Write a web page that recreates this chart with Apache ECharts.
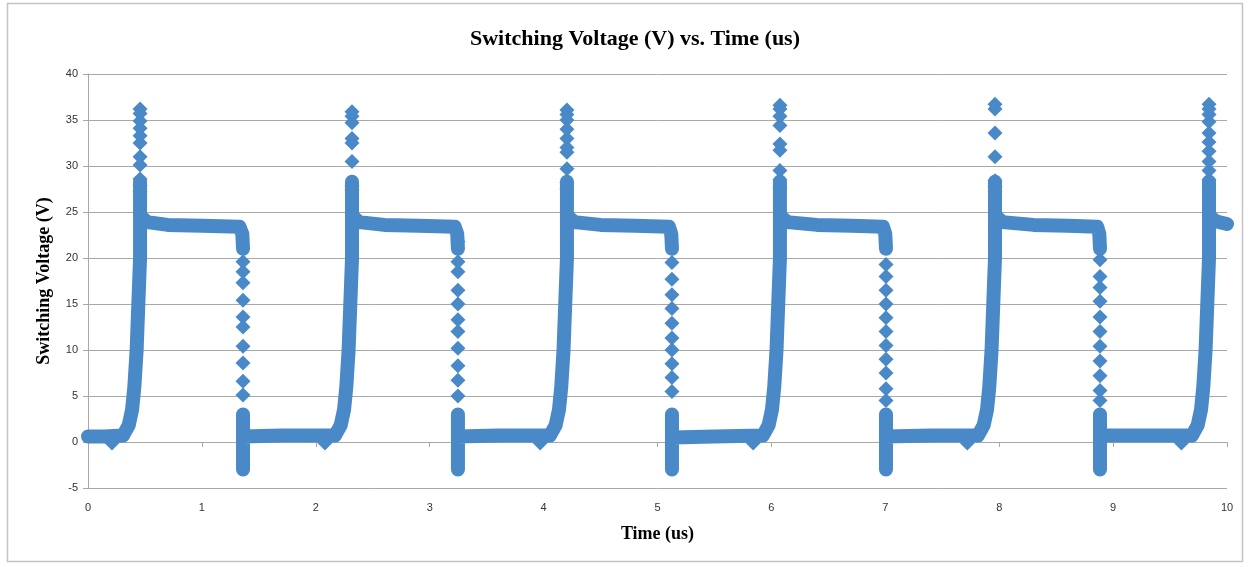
<!DOCTYPE html>
<html>
<head>
<meta charset="utf-8">
<script src="https://cdn.jsdelivr.net/npm/echarts@6/dist/echarts.min.js"></script>
<style>
  html,body{margin:0;padding:0;background:#fff;}
  #chart{width:1251px;height:567px;}
</style>
</head>
<body>
<div id="chart"></div>
<script>
// ==================== DATA ====================
// edge times (us)
const riseX = [0.457, 2.318, 4.205, 6.075, 7.963, 9.842];
const fallX = [1.361, 3.248, 5.127, 7.006, 8.885];

// separate diamonds visible on the ringing spikes (V)
const riseSpikes = [
  [36.2, 35.7, 34.9, 34.1, 33.3, 32.5, 31.0, 30.1, 28.6, 27.9, 27.2],
  [35.9, 35.4, 34.7, 33.0, 32.5, 30.5, 27.9, 27.4],
  [36.1, 35.6, 35.0, 34.0, 33.0, 32.0, 31.5, 29.7, 28.2, 27.5],
  [36.6, 36.2, 35.4, 34.4, 32.4, 31.7, 29.5, 28.5, 27.6],
  [36.7, 36.2, 33.6, 31.0, 28.4, 27.8, 27.2],
  [36.7, 36.2, 35.6, 34.8, 33.6, 32.6, 31.6, 30.5, 29.5, 28.5]
];
const fallSpikes = [
  [19.6, 18.5, 17.3, 15.4, 13.6, 12.5, 10.4, 8.6, 6.6, 5.1],
  [21.8, 19.6, 18.5, 16.5, 15.0, 13.3, 12.0, 10.2, 8.3, 6.7, 5.0],
  [19.5, 17.7, 16.0, 14.5, 12.9, 11.3, 10.0, 8.5, 7.0, 5.5],
  [19.3, 18.0, 16.5, 15.0, 13.5, 12.0, 10.5, 9.0, 7.5, 5.8, 4.5],
  [19.8, 18.0, 16.8, 15.3, 13.6, 12.0, 10.4, 8.8, 7.2, 5.6, 4.5]
];
// small dips just before each rise
const dips = [[0.21,-0.1],[2.08,-0.1],[3.97,-0.1],[5.84,-0.1],[7.72,-0.1],[9.60,-0.1]];

// dense part of the trace, one run per switching cycle
const cycle1 = [[0,0.6],[0.15,0.6],[0.307,0.7],[0.357,1.8],[0.387,3.5],[0.407,6],[0.427,10],[0.442,15],[0.457,20],[0.457,28.3],[0.457,24.6],[0.52,23.9],[0.7,23.6],[1.0,23.5],[1.33,23.4],[1.355,22.6],[1.361,21.0]];
const cycle2 = [[1.361,-3.0],[1.361,3.0],[1.361,0.6],[1.7,0.7],[2.168,0.7],[2.218,1.8],[2.248,3.5],[2.268,6],[2.288,10],[2.303,15],[2.318,20],[2.318,28.3],[2.318,24.6],[2.38,23.9],[2.6,23.6],[2.9,23.5],[3.22,23.4],[3.242,22.6],[3.248,21.0]];
const cycle3 = [[3.248,-3.0],[3.248,3.0],[3.248,0.6],[3.6,0.7],[4.055,0.7],[4.105,1.8],[4.135,3.5],[4.155,6],[4.175,10],[4.19,15],[4.205,20],[4.205,28.3],[4.205,24.6],[4.27,23.9],[4.5,23.6],[4.8,23.5],[5.1,23.4],[5.121,22.6],[5.127,21.0]];
const cycle4 = [[5.127,-3.0],[5.127,3.0],[5.127,0.5],[5.5,0.6],[5.925,0.7],[5.975,1.8],[6.005,3.5],[6.025,6],[6.045,10],[6.06,15],[6.075,20],[6.075,28.3],[6.075,24.6],[6.14,23.9],[6.4,23.6],[6.7,23.5],[6.98,23.4],[7.0,22.6],[7.006,21.0]];
const cycle5 = [[7.006,-3.0],[7.006,3.0],[7.006,0.6],[7.4,0.7],[7.813,0.7],[7.863,1.8],[7.893,3.5],[7.913,6],[7.933,10],[7.948,15],[7.963,20],[7.963,28.3],[7.963,24.6],[8.03,23.9],[8.3,23.6],[8.6,23.5],[8.86,23.4],[8.879,22.6],[8.885,21.0]];
const cycle6 = [[8.885,-3.0],[8.885,3.0],[8.885,0.7],[9.3,0.7],[9.692,0.7],[9.742,1.8],[9.772,3.5],[9.792,6],[9.812,10],[9.827,15],[9.842,20],[9.842,28.3],[9.842,24.6],[9.9,24.0],[10.0,23.7]];

// ==================== CHART ====================
const blue='#4a89c8', gridC='#a8a8a8', textC='#333';
const serif='"Liberation Serif","Times New Roman",serif';

const pts=[];
riseSpikes.forEach((vals,i)=>vals.forEach(v=>pts.push([riseX[i],v])));
fallSpikes.forEach((vals,i)=>vals.forEach(v=>pts.push([fallX[i],v])));
dips.forEach(d=>pts.push(d));

const series=[cycle1,cycle2,cycle3,cycle4,cycle5,cycle6].map(c=>({
  type:'line',data:c,symbol:'none',showSymbol:false,clip:false,
  lineStyle:{color:blue,width:14,cap:'round',join:'round'},z:2
}));
series.push({type:'scatter',data:pts,symbol:'diamond',symbolSize:[15,15],clip:false,
  itemStyle:{color:blue,opacity:1},z:3});
// second x axis only carries the zero line with its ticks
series.push({type:'line',data:[],xAxisIndex:1});

const chart=echarts.init(document.getElementById('chart'));
chart.setOption({
  animation:false,
  backgroundColor:'#fff',
  title:{text:'Switching Voltage (V) vs. Time (us)',left:630,textAlign:'center',top:23,
    textStyle:{fontFamily:serif,fontWeight:'bold',fontSize:22,color:'#000'}},
  grid:{left:88,right:24,top:74,bottom:79},
  xAxis:[
    {type:'value',min:0,max:10,interval:1,
     name:'Time (us)',nameLocation:'middle',nameGap:37,
     nameTextStyle:{fontFamily:serif,fontWeight:'bold',fontSize:18,color:'#000'},
     axisLine:{show:false},axisTick:{show:false},splitLine:{show:false},
     axisLabel:{color:textC,fontSize:11,margin:14,fontFamily:'"Liberation Sans",Arial,sans-serif'}},
    {type:'value',min:0,max:10,interval:1,position:'bottom',offset:-46,
     axisLine:{show:true,onZero:false,lineStyle:{color:gridC}},
     axisTick:{show:true,length:5,lineStyle:{color:gridC}},
     axisLabel:{show:false},splitLine:{show:false}}
  ],
  yAxis:{type:'value',min:-5,max:40,interval:5,
    name:'Switching Voltage (V)',nameLocation:'middle',nameGap:35,
    nameTextStyle:{fontFamily:serif,fontWeight:'bold',fontSize:18,color:'#000'},
    axisLine:{show:true,lineStyle:{color:gridC}},
    axisTick:{show:true,length:5,lineStyle:{color:gridC}},
    axisLabel:{color:textC,fontSize:11,margin:10,fontFamily:'"Liberation Sans",Arial,sans-serif'},
    splitLine:{lineStyle:{color:gridC,width:1}}},
  graphic:[{type:'rect',shape:{x:7.5,y:3.5,width:1235,height:558},
    style:{fill:'none',stroke:'#c4c4c4',lineWidth:1.5},silent:true}],
  series
});
</script>
</body>
</html>
